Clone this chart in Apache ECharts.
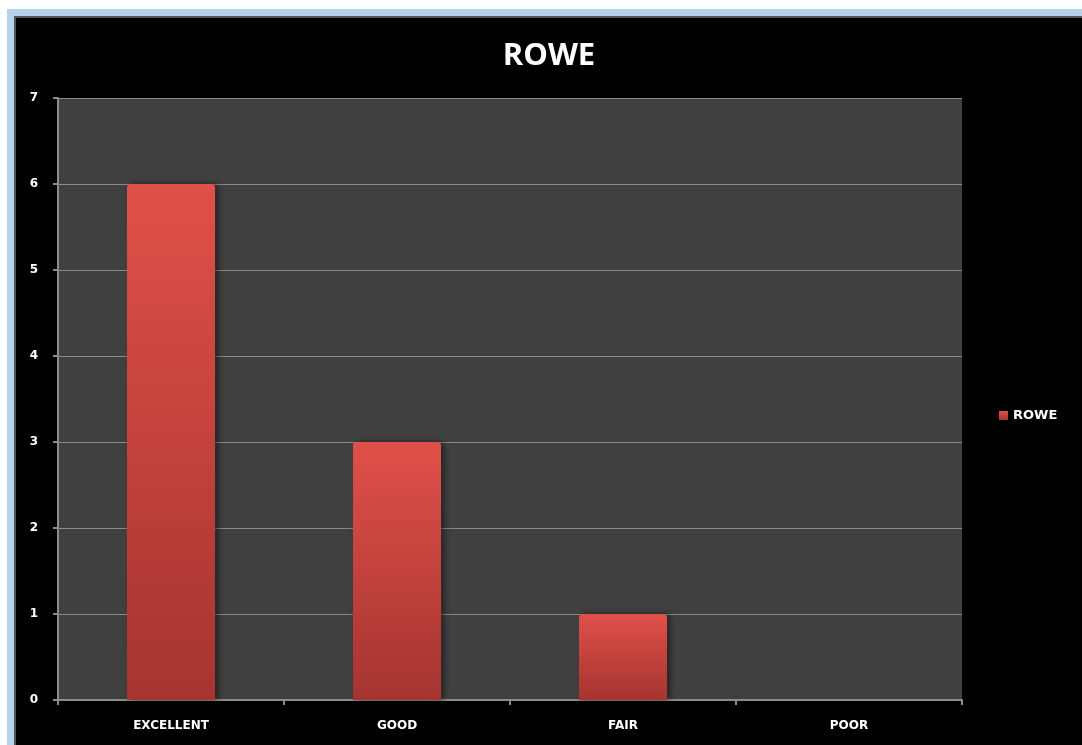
<!DOCTYPE html>
<html><head><meta charset="utf-8">
<script src="https://cdn.jsdelivr.net/npm/echarts@6/dist/echarts.min.js"></script>
<style>
html,body{margin:0;padding:0;background:#fff;width:1082px;height:745px;overflow:hidden;}
#frame{position:absolute;left:7px;top:9px;width:1075px;height:736px;background:#b7d3ec;}
#shade{position:absolute;left:14px;top:16px;width:1068px;height:729px;background:#555;}
#chart{position:absolute;left:16px;top:18px;width:1066px;height:727px;background:#000;}
</style></head>
<body>
<div id="frame"></div><div id="shade"></div>
<div id="chart"></div>
<script>
var categories = ["EXCELLENT", "GOOD", "FAIR", "POOR"];
var seriesName = "ROWE";
var values = [6, 3, 1, 0];
var titleText = "ROWE";

var chart = echarts.init(document.getElementById('chart'), null, {renderer: 'canvas'});
var lab = {color: '#ffffff', fontFamily: 'DejaVu Sans', fontWeight: 'bold', fontSize: 12};
chart.setOption({
  backgroundColor: '#000000',
  animation: false,
  title: {text: titleText, left: 'center', top: 18,
    textStyle: {color: '#ffffff', fontFamily: 'Open Sans', fontWeight: 'bold', fontSize: 31}},
  legend: {data: [seriesName], left: 978, top: 386, orient: 'vertical',
    itemWidth: 9, itemHeight: 9, icon: 'rect', itemGap: 4,
    textStyle: Object.assign({}, lab, {fontSize: 13, padding: [0, 0, 0, 0]})},
  grid: {left: 42, top: 80, right: 120, bottom: 45, show: true, backgroundColor: '#404040', borderWidth: 0},
  xAxis: {type: 'category', data: categories,
    axisLine: {lineStyle: {color: '#8c8c8c', width: 2}},
    axisTick: {show: true, length: 5, lineStyle: {color: '#8c8c8c', width: 2}},
    axisLabel: Object.assign({}, lab, {margin: 20})},
  yAxis: {type: 'value', min: 0, max: 7, interval: 1,
    axisLine: {show: true, lineStyle: {color: '#8c8c8c', width: 2}},
    axisTick: {show: true, length: 5, lineStyle: {color: '#8c8c8c', width: 2}},
    splitLine: {lineStyle: {color: '#8a8a8a', width: 1}},
    axisLabel: Object.assign({}, lab, {margin: 20})},
  series: [{name: seriesName, type: 'bar', data: values, barWidth: '39%',
    itemStyle: {
      color: new echarts.graphic.LinearGradient(0, 0, 0, 1, [
        {offset: 0, color: '#e0504a'}, {offset: 1, color: '#a53430'}]),
      borderRadius: [4, 4, 0, 0],
      shadowColor: 'rgba(0,0,0,0.5)', shadowBlur: 6, shadowOffsetX: 3
    }}]
});
</script>
</body></html>
